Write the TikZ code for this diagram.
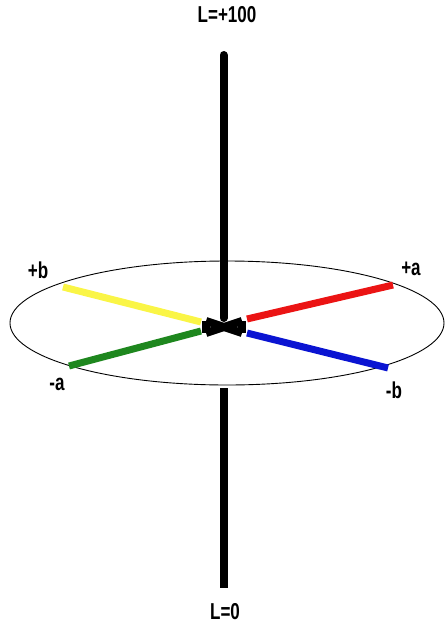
\documentclass[tikz,border=0pt]{standalone}
\usepackage{fontspec}
\newfontfamily\labelfont[FakeStretch=0.74]{Liberation Sans}
\usepackage{tikz}
\usetikzlibrary{positioning}
\definecolor{rayyellow}{RGB}{250,245,70}
\definecolor{raygreen}{RGB}{30,135,30}
\definecolor{rayred}{RGB}{235,20,20}
\definecolor{rayblue}{RGB}{10,20,210}
\tikzset{
  axislbl/.style={font=\labelfont\bfseries\fontsize{23}{25}\selectfont, inner sep=0pt},
  axisline/.style={line width=8pt, line cap=round, black},
  ray/.style={line width=7pt},
  rim/.style={draw=black, line width=0.9pt}
}
\begin{document}
\begin{tikzpicture}[x=1pt, y=-1pt]
\useasboundingbox (0,0) rectangle (446,632);
% disc
\draw[rim] (227,323) ellipse [x radius=217, y radius=62];
% lightness axis
\coordinate (ltop) at (223.5,55);
\coordinate (lmid) at (223.5,318);
\coordinate (llow) at (223.5,388);
\coordinate (lbot) at (223.5,588);
\draw[axisline] (ltop) -- (lmid);
\draw[axisline, line cap=butt] (llow) -- (lbot);
% colour rays
\coordinate (pa) at (393,285);
\coordinate (pb) at (63,287);
\coordinate (ma) at (69,366);
\coordinate (mb) at (388,368);
\draw[ray, rayred] (247,319) -- (pa);
\draw[ray, rayyellow] (201,322) -- (pb);
\draw[ray, raygreen] (201,331) -- (ma);
\draw[ray, rayblue] (247,333) -- (mb);
% centre knot
\draw[line width=8pt, black] (206,321) -- (242,333);
\draw[line width=8pt, black] (206,333) -- (242,321);
\draw[line width=8pt, black] (206,321) -- (206,333);
\draw[line width=8pt, black] (242,321) -- (242,333);
% labels
\node[axislbl] (top) at (227,15) {L=+100};
\node[axislbl] (bot) at (225,612) {L=0};
\node[axislbl] (plusb) at (38,270) {+b};
\node[axislbl] (plusa) at (411,269) {+a};
\node[axislbl] (minusa) at (57,384) {-a};
\node[axislbl] (minusb) at (394,390) {-b};
\end{tikzpicture}
\end{document}
